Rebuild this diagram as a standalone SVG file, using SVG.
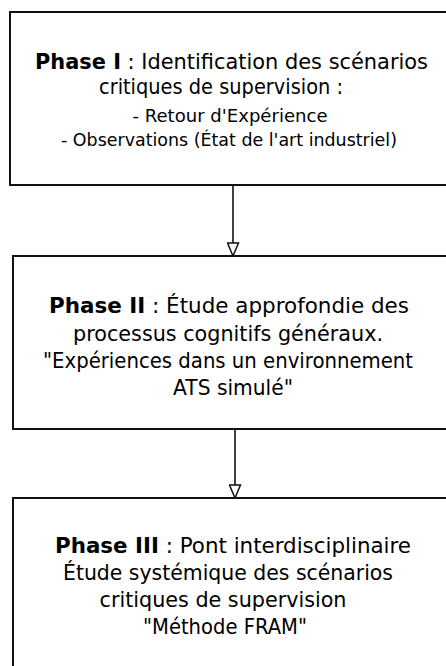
<svg xmlns="http://www.w3.org/2000/svg" width="446" height="666" viewBox="0 0 446 666">
<style>
.box{fill:#fff;stroke:#111;stroke-width:2}
.t{font-family:"Comic Sans MS","DejaVu Sans",sans-serif;font-size:21px;fill:#000;text-anchor:middle}
.s{font-size:17px}
.b{font-weight:bold}
.c{stroke:#111;stroke-width:1.6;fill:none;marker-end:url(#arr)}
</style>
<defs>
<marker id="arr" markerUnits="userSpaceOnUse" viewBox="0 0 15 13" refX="14" refY="6.5" markerWidth="15" markerHeight="13" orient="auto">
<path d="M1,1 L14,6.5 L1,12 Z" fill="#fff" stroke="#111" stroke-width="1.5"/>
</marker>
</defs>
<rect width="446" height="666" fill="#fff"/>
<g id="connectors">
<line class="c" x1="233" y1="185" x2="233" y2="256"/>
<line class="c" x1="235" y1="429" x2="235" y2="498"/>
</g>
<g id="phase1">
<rect class="box" x="10" y="12" width="450" height="173"/>
<text class="t" x="231.5" y="69" textLength="393" lengthAdjust="spacingAndGlyphs"><tspan class="b">Phase I</tspan> : Identification des scénarios</text>
<text class="t" x="221" y="94" textLength="244" lengthAdjust="spacingAndGlyphs">critiques de supervision :</text>
<text class="t s" x="230" y="122" textLength="195" lengthAdjust="spacingAndGlyphs">- Retour d'Expérience</text>
<text class="t s" x="229" y="146" textLength="336" lengthAdjust="spacingAndGlyphs">- Observations (État de l'art industriel)</text>
</g>
<g id="phase2">
<rect class="box" x="13" y="256" width="450" height="173"/>
<text class="t" x="229" y="313" textLength="360" lengthAdjust="spacingAndGlyphs"><tspan class="b">Phase II</tspan> : Étude approfondie des</text>
<text class="t" x="228" y="341" textLength="310" lengthAdjust="spacingAndGlyphs">processus cognitifs généraux.</text>
<text class="t" x="228" y="368" textLength="370" lengthAdjust="spacingAndGlyphs">"Expériences dans un environnement</text>
<text class="t" x="233" y="395" textLength="120" lengthAdjust="spacingAndGlyphs">ATS simulé"</text>
</g>
<g id="phase3">
<rect class="box" x="13" y="498" width="450" height="200"/>
<text class="t" x="233" y="553" textLength="356" lengthAdjust="spacingAndGlyphs"><tspan class="b">Phase III</tspan> : Pont interdisciplinaire</text>
<text class="t" x="228" y="580" textLength="330" lengthAdjust="spacingAndGlyphs">Étude systémique des scénarios</text>
<text class="t" x="223" y="607" textLength="247" lengthAdjust="spacingAndGlyphs">critiques de supervision</text>
<text class="t" x="225" y="634" textLength="164" lengthAdjust="spacingAndGlyphs">"Méthode FRAM"</text>
</g>
</svg>
